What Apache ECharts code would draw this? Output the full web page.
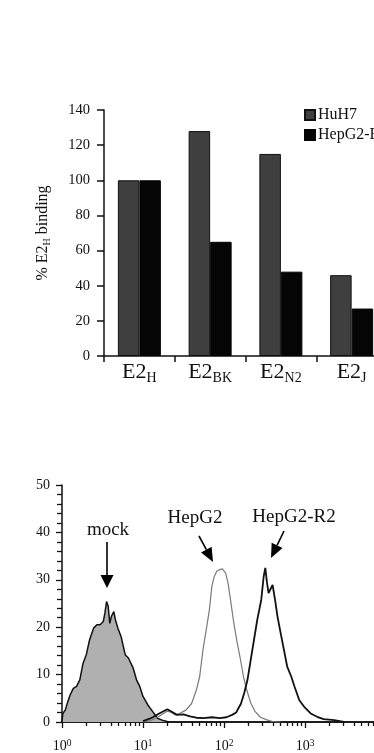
<!DOCTYPE html>
<html>
<head>
<meta charset="utf-8">
<script src="https://cdn.jsdelivr.net/npm/echarts@6/dist/echarts.min.js"></script>
<style>
html,body{margin:0;padding:0;background:#fff;}
#c{width:374px;height:753px;}
</style>
</head>
<body>
<div id="c"></div>
<script>
// ---- Top chart: % E2H binding ----
const catMain = ['E2', 'E2', 'E2', 'E2'];
const catSub = ['H', 'BK', 'N2', 'J'];
const huh7 = [100, 128, 115, 46];
const hepg2r2 = [100, 65, 48, 27];
const barYTicks = [0, 20, 40, 60, 80, 100, 120, 140];

// ---- Bottom chart: flow cytometry histograms (x = log10 fluorescence) ----
const histXTickExp = [0, 1, 2, 3, 4];
const histXLabelExp = [0, 1, 2, 3];
const histYTicks = [0, 10, 20, 30, 40, 50];
const mockLogX = [0.00,0.01,0.04,0.07,0.10,0.14,0.18,0.22,0.26,0.30,0.34,0.39,0.43,0.47,0.51,0.53,0.55,0.57,0.59,0.61,0.64,0.66,0.69,0.73,0.78,0.82,0.88,0.92,0.96,1.00,1.06,1.12,1.18,1.25,1.32];
const mockCount = [0,1.8,2.5,4.2,5.7,7.1,7.5,8.9,12.4,14.2,17.3,19.8,20.5,20.5,21.2,23.0,25.4,24.4,20.8,22.3,23.3,21.5,19.8,18.0,14.2,13.5,11.3,8.9,7.5,5.4,3.6,2.2,0.8,0.3,0];
const hepLogX = [1.00,1.10,1.20,1.30,1.35,1.40,1.45,1.53,1.60,1.66,1.70,1.74,1.78,1.82,1.85,1.88,1.91,1.94,1.98,2.02,2.05,2.08,2.12,2.16,2.20,2.24,2.28,2.33,2.38,2.45,2.52,2.60,2.70];
const hepCount = [0,0.3,1.2,2.3,2.0,1.5,1.8,2.5,3.9,6.8,9.6,15.2,19.4,23.7,28.6,30.7,31.8,32.1,32.3,31.4,29.3,25.8,21.0,17.0,13.5,9.6,6.8,4.0,2.3,1.0,0.5,0.1,0];
const r2LogX = [1.00,1.10,1.20,1.30,1.35,1.42,1.50,1.58,1.66,1.75,1.85,1.95,2.03,2.10,2.15,2.21,2.25,2.29,2.33,2.37,2.41,2.46,2.49,2.51,2.53,2.55,2.57,2.60,2.63,2.66,2.70,2.74,2.78,2.83,2.87,2.93,2.99,3.07,3.15,3.23,3.36,3.48];
const r2Count = [0.2,0.8,1.8,2.7,2.2,1.5,1.6,1.2,0.9,0.8,1.0,0.8,1.0,1.5,2.0,3.9,6.1,8.9,13.1,17.3,21.5,25.8,30.7,32.5,29.5,27.2,27.9,28.9,25.8,22.3,18.7,15.2,11.7,9.6,7.5,4.6,3.2,1.8,1.1,0.6,0.4,0];

const SERIF = "'Liberation Serif','DejaVu Serif',serif";
const zip = (a, b) => a.map((v, i) => [v, b[i]]);

// minor ticks for log decades (2..9)
const minorTicks = [];
for (let d = 0; d < 4; d++) for (let k = 2; k <= 9; k++) minorTicks.push(d + Math.log10(k));

function arrow(x1, y1, x2, y2, headLen, headW) {
  const dx = x2 - x1, dy = y2 - y1, L = Math.hypot(dx, dy);
  const ux = dx / L, uy = dy / L, px = -uy, py = ux;
  const bx = x2 - ux * headLen, by = y2 - uy * headLen;
  return [
    { type: 'line', shape: { x1: x1, y1: y1, x2: bx, y2: by }, style: { stroke: '#000', lineWidth: 1.6 } },
    { type: 'polygon', shape: { points: [[x2, y2], [bx + px * headW / 2, by + py * headW / 2], [bx - px * headW / 2, by - py * headW / 2]] }, style: { fill: '#000' } }
  ];
}

const chart = echarts.init(document.getElementById('c'), null, { renderer: 'canvas' });
const axisLineStyle = { color: '#111', width: 1.5 };

const option = {
  backgroundColor: '#fff',
  animation: false,
  textStyle: { fontFamily: SERIF },
  grid: [
    { left: 104, top: 110, width: 283, height: 246, containLabel: false, outerBoundsMode: 'none' },
    { left: 62, top: 485, width: 324, height: 237, containLabel: false, outerBoundsMode: 'none' }
  ],
  legend: {
    data: ['HuH7', 'HepG2-R2'],
    orient: 'vertical', left: 304, top: 107, padding: 0,
    itemWidth: 10, itemHeight: 10, itemGap: 4, icon: 'rect',
    textStyle: { fontFamily: SERIF, fontSize: 16, color: '#111', padding: [0, 0, 0, -2] }
  },
  xAxis: [
    {
      type: 'category', gridIndex: 0, position: 'bottom', data: catMain.map((m, i) => m + '|' + catSub[i]),
      axisLine: { show: true, lineStyle: axisLineStyle },
      axisTick: { show: true, length: 6, lineStyle: { color: '#111', width: 1.5 } },
      axisLabel: {
        margin: 4, color: '#111', interval: 0,
        formatter: v => { const p = v.split('|'); return '{m|' + p[0] + '}{s|' + p[1] + '}'; },
        rich: {
          m: { fontFamily: SERIF, fontSize: 22, lineHeight: 24, color: '#111' },
          s: { fontFamily: SERIF, fontSize: 14, lineHeight: 14, padding: [12, 0, 0, 0], color: '#111' }
        }
      },
      splitLine: { show: false }
    },
    {
      type: 'value', gridIndex: 1, position: 'bottom', offset: 0, min: 0, max: 4,
      axisLine: { show: true, lineStyle: axisLineStyle },
      axisTick: { show: true, length: 4, customValues: minorTicks, lineStyle: { color: '#111', width: 1.3 } },
      axisLabel: { show: false },
      splitLine: { show: false }
    },
    {
      type: 'value', gridIndex: 1, position: 'bottom', offset: 0, min: 0, max: 4, interval: 1,
      axisLine: { show: true, lineStyle: axisLineStyle },
      axisTick: { show: true, length: 6, customValues: histXTickExp, lineStyle: { color: '#111', width: 1.3 } },
      axisLabel: {
        margin: 17, color: '#111', customValues: histXLabelExp,
        formatter: v => '{b|10}{s|' + v + '}',
        rich: {
          b: { fontFamily: SERIF, fontSize: 14, lineHeight: 15, color: '#111' },
          s: { fontFamily: SERIF, fontSize: 9.5, lineHeight: 9, padding: [0, 0, 6, 0], color: '#111' }
        }
      },
      splitLine: { show: false }
    }
  ],
  yAxis: [
    {
      type: 'value', gridIndex: 0, min: 0, max: 140, interval: 20,
      axisLine: { show: true, lineStyle: axisLineStyle },
      axisTick: { show: true, length: 7, lineStyle: { color: '#111', width: 1.5 } },
      axisLabel: { margin: 14, fontFamily: SERIF, fontSize: 14.5, color: '#111', customValues: barYTicks },
      splitLine: { show: false },
      name: '{a|% E2}{s|H}{a| binding}',
      nameLocation: 'middle', nameRotate: 90, nameGap: 52,
      nameTextStyle: {
        rich: {
          a: { fontFamily: SERIF, fontSize: 16, lineHeight: 18, color: '#111' },
          s: { fontFamily: SERIF, fontSize: 10, lineHeight: 10, padding: [9, 0, 0, 0], color: '#111' }
        }
      }
    },
    {
      type: 'value', gridIndex: 1, min: 0, max: 50, interval: 10,
      axisLine: { show: true, lineStyle: axisLineStyle },
      axisTick: { show: true, length: 6, lineStyle: { color: '#111', width: 1.3 } },
      minorTick: { show: true, splitNumber: 5, length: 5, lineStyle: { color: '#111', width: 1.3 } },
      axisLabel: { margin: 12, fontFamily: SERIF, fontSize: 14, color: '#111', customValues: histYTicks },
      splitLine: { show: false }
    }
  ],
  series: [
    {
      name: 'HuH7', type: 'bar', xAxisIndex: 0, yAxisIndex: 0, data: huh7,
      barWidth: 21.5, barGap: '0%',
      itemStyle: { color: '#3f3f3f', borderColor: '#111', borderWidth: 1 }
    },
    {
      name: 'HepG2-R2', type: 'bar', xAxisIndex: 0, yAxisIndex: 0, data: hepg2r2,
      barWidth: 21.5, barGap: '0%',
      itemStyle: { color: '#050505', borderColor: '#050505', borderWidth: 1 }
    },
    {
      name: 'mock', type: 'line', xAxisIndex: 1, yAxisIndex: 1, data: zip(mockLogX, mockCount),
      showSymbol: false, smooth: false, z: 2,
      lineStyle: { color: '#111', width: 1.5 },
      areaStyle: { color: '#b0b0b0', opacity: 1 }
    },
    {
      name: 'HepG2 histogram', type: 'line', xAxisIndex: 1, yAxisIndex: 1, data: zip(hepLogX, hepCount),
      showSymbol: false, smooth: false, z: 3,
      lineStyle: { color: '#7a7a7a', width: 1.2 }
    },
    {
      name: 'HepG2-R2 histogram', type: 'line', xAxisIndex: 1, yAxisIndex: 1, data: zip(r2LogX, r2Count),
      showSymbol: false, smooth: false, z: 4,
      lineStyle: { color: '#111', width: 1.8 }
    }
  ],
  graphic: [
    { type: 'text', x: 108, y: 530, style: { text: 'mock', font: '19px ' + SERIF, fill: '#111', align: 'center', verticalAlign: 'middle' } },
    { type: 'text', x: 195, y: 518, style: { text: 'HepG2', font: '19px ' + SERIF, fill: '#111', align: 'center', verticalAlign: 'middle' } },
    { type: 'text', x: 294, y: 517, style: { text: 'HepG2-R2', font: '19px ' + SERIF, fill: '#111', align: 'center', verticalAlign: 'middle' } }
  ]
    .concat(arrow(107, 542, 107, 588, 13, 13))
    .concat(arrow(199, 536, 213, 562, 14, 12))
    .concat(arrow(284, 531, 271, 558, 14, 12))
};
chart.setOption(option);
</script>
</body>
</html>
